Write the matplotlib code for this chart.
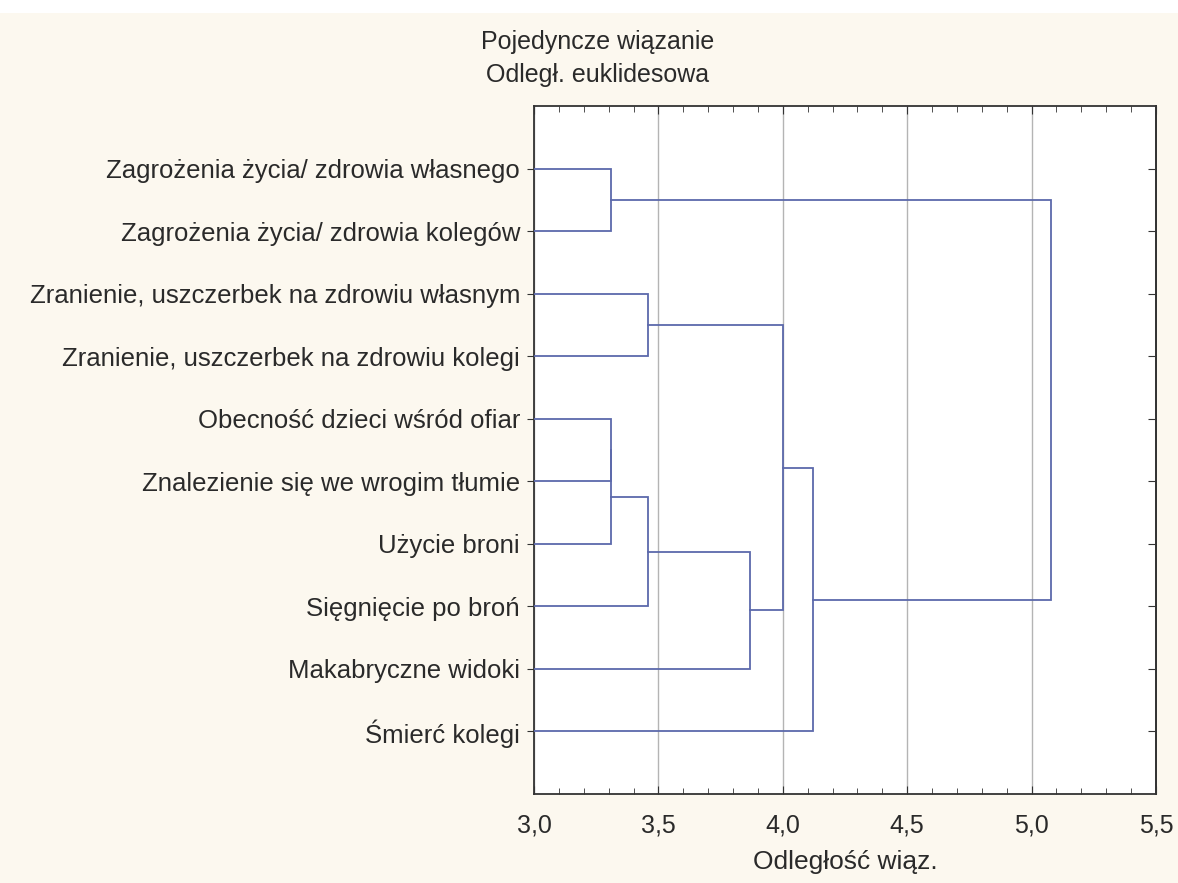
import numpy as np
import matplotlib.pyplot as plt
from matplotlib.ticker import MultipleLocator, FuncFormatter

plt.rcParams['font.family'] = ['Liberation Sans', 'DejaVu Sans']

# leaves, top to bottom
labels = [
    'Zagrożenia życia/ zdrowia własnego',
    'Zagrożenia życia/ zdrowia kolegów',
    'Zranienie, uszczerbek na zdrowiu własnym',
    'Zranienie, uszczerbek na zdrowiu kolegi',
    'Obecność dzieci wśród ofiar',
    'Znalezienie się we wrogim tłumie',
    'Użycie broni',
    'Sięgnięcie po broń',
    'Makabryczne widoki',
    'Śmierć kolegi',
]

# merges: (left node, right node), new node ids start at len(labels)
merge_pairs = [(0, 1), (2, 3), (4, 5), (12, 6), (13, 7),
               (14, 8), (11, 15), (16, 9), (10, 17)]
merge_heights = [3.31, 3.46, 3.31, 3.31, 3.46, 3.87, 4.0, 4.12, 5.08]

LINE = '#5c69ab'
BG = '#fcf8ef'
TXT = '#2a2a2a'
FS = 18

fig = plt.figure(figsize=(11.78, 8.83), dpi=100, facecolor=BG)
ax = fig.add_axes([0.4533, 0.1008, 0.528, 0.7792])
ax.set_facecolor('white')

n = len(labels)
pos = {i: (3.0, i + 1) for i in range(n)}  # node -> (height, y)
for k, ((a, b), h) in enumerate(zip(merge_pairs, merge_heights)):
    xa, ya = pos[a]
    xb, yb = pos[b]
    ax.plot([xa, h, h, xb], [ya, ya, yb, yb], color=LINE, lw=1.3,
            solid_joinstyle='miter', zorder=3)
    pos[n + k] = (h, (ya + yb) / 2)

ax.set_xlim(3.0, 5.5)
ax.set_ylim(n + 1, 0)
ax.set_yticks(np.arange(1, n + 1))
ax.set_yticklabels(labels, fontsize=18.5, color=TXT)
ax.xaxis.set_major_locator(MultipleLocator(0.5))
ax.xaxis.set_minor_locator(MultipleLocator(0.1))
ax.xaxis.set_major_formatter(FuncFormatter(lambda v, p: f'{v:.1f}'.replace('.', ',')))
ax.tick_params(axis='x', which='both', direction='in', top=True,
               labelsize=FS, colors=TXT, pad=14)
ax.tick_params(axis='x', which='major', length=6, color='#333333')
ax.tick_params(axis='x', which='minor', length=4, color='#333333')
ax.tick_params(axis='y', direction='out', length=5, pad=5, color='#333333')

# right-hand ticks point inward
sec = ax.secondary_yaxis('right')
sec.set_yticks(np.arange(1, n + 1))
sec.tick_params(direction='in', length=6, labelright=False, color='#333333')
sec.spines['right'].set_color('#333333')
sec.spines['right'].set_linewidth(1.3)

ax.grid(axis='x', which='major', color='#b4b4b4', lw=1.0, zorder=0)
for s in ax.spines.values():
    s.set_color('#333333')
    s.set_linewidth(1.3)

ax.set_xlabel('Odległość wiąz.', fontsize=19, color=TXT, labelpad=9)
fig.text(0.5076, 0.952, 'Pojedyncze wiązanie', ha='center', va='center',
         fontsize=FS, color=TXT)
fig.text(0.5076, 0.915, 'Odległ. euklidesowa', ha='center', va='center',
         fontsize=FS, color=TXT)

# white strip along the top edge
fig.patches.append(plt.Rectangle((0, 0.985), 1, 0.015, transform=fig.transFigure,
                                 facecolor='white', edgecolor='none'))

fig.savefig('out.png', dpi=100, facecolor=BG)
